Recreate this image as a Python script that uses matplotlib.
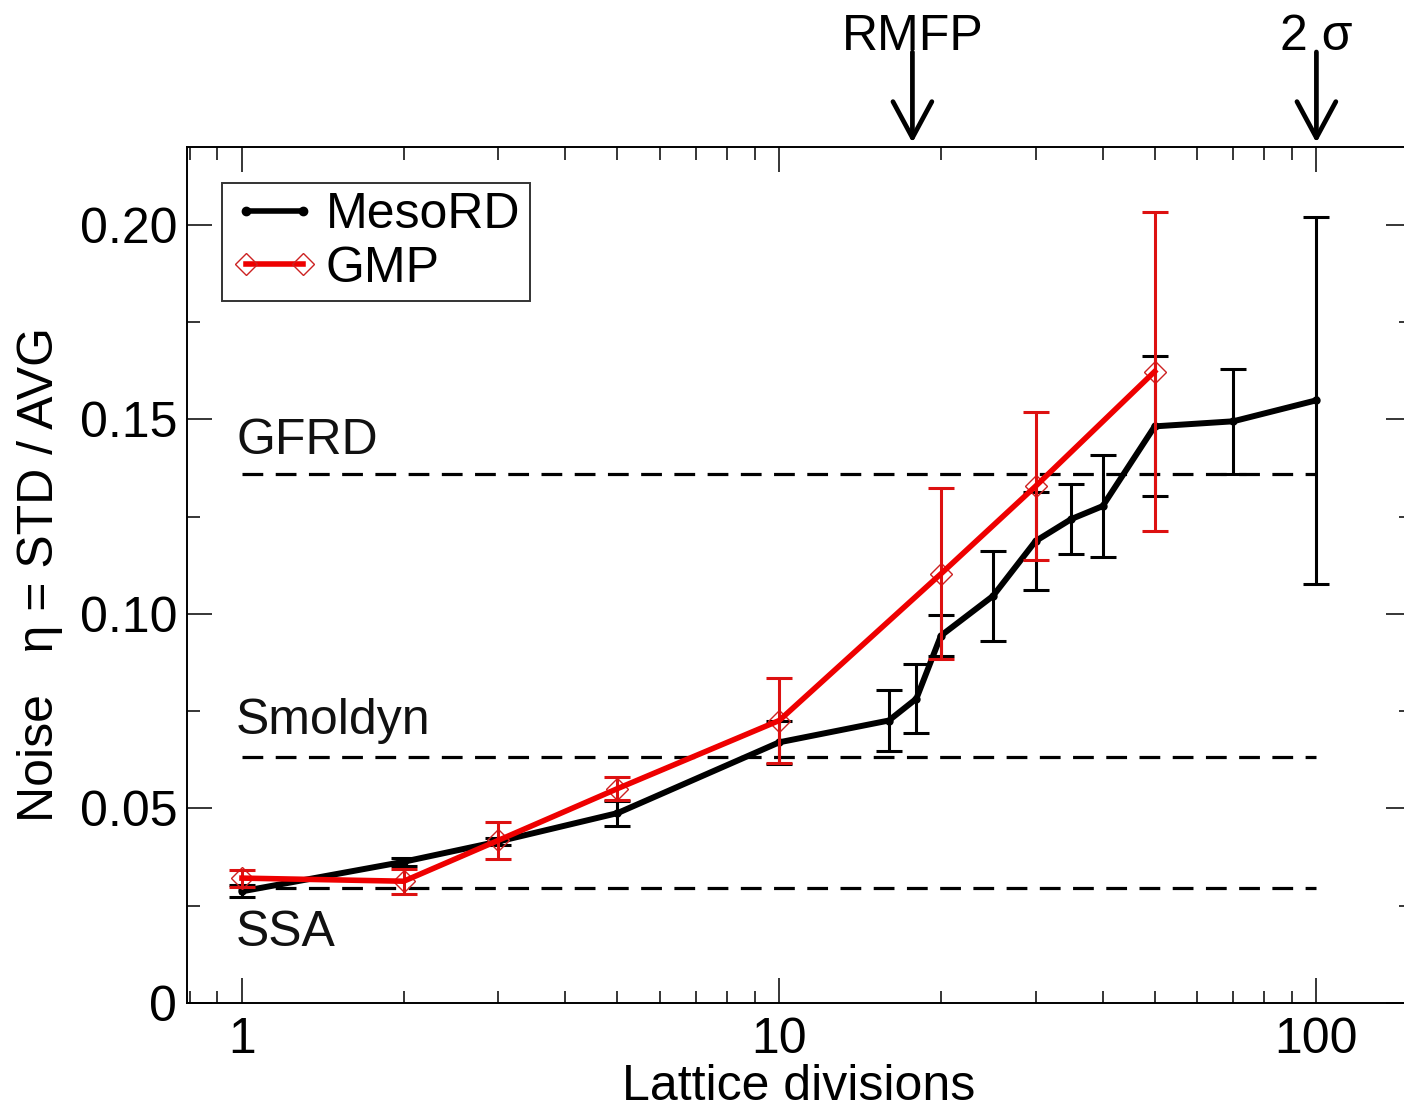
import matplotlib
matplotlib.use("Agg")
import matplotlib.pyplot as plt
from matplotlib.lines import Line2D

plt.rcParams['font.family'] = ['Liberation Sans', 'DejaVu Sans']

# ---- data ----
meso_x = [1, 2, 3, 5, 10, 16, 18, 20, 25, 30, 35, 40, 50, 70, 100]
meso_y = [0.0287, 0.0363, 0.0415, 0.0488, 0.0670, 0.0726, 0.0782, 0.0944,
          0.1046, 0.1187, 0.1244, 0.1277, 0.1482, 0.1495, 0.1549]
meso_err = [0.0015, 0.0010, 0.0010, 0.0032, 0.0055, 0.0078, 0.0088, 0.0052,
            0.0116, 0.0126, 0.0090, 0.0132, 0.0180, 0.0135, 0.0472]

gmp_x = [1, 2, 3, 5, 10, 20, 30, 50]
gmp_y = [0.0321, 0.0313, 0.0418, 0.0551, 0.0726, 0.1103, 0.1328, 0.1623]
gmp_err = [0.0022, 0.0032, 0.0048, 0.0030, 0.0108, 0.0220, 0.0190, 0.0410]

ref_names = ['GFRD', 'Smoldyn', 'SSA']
ref_values = [0.1359, 0.0631, 0.0295]
ref_label_y = [0.1410, 0.0692, 0.0146]

markers_x = [17.7, 100]
markers_text = ['RMFP', '2 σ']

xticks = [1, 10, 100]
xticklabels = ['1', '10', '100']
yticks = [0, 0.05, 0.10, 0.15, 0.20]
yticklabels = ['0', '0.05', '0.10', '0.15', '0.20']

FS = 36

fig = plt.figure(figsize=(14.04, 11.12), dpi=100)
ax = fig.add_axes([187/1404, (1112-1003)/1112, (1411-187)/1404, (1003-147)/1112])

ax.set_xscale('log')
ax.set_xlim(0.79, 150)
ax.set_ylim(0, 0.22)

# reference dashed lines
for v in ref_values:
    ax.hlines(v, 1, 100, colors='black', linewidth=2.3, linestyles=(0, (6.5, 3.9)), zorder=1)
for name, ly in zip(ref_names, ref_label_y):
    ax.text(0.975, ly, name, fontsize=FS, ha='left', va='baseline', color='#111111')

# MesoRD
ax.errorbar(meso_x, meso_y, yerr=meso_err, fmt='none', ecolor='black',
            elinewidth=2.2, capsize=9.7, capthick=2.2, zorder=2)
ax.plot(meso_x, meso_y, color='black', linewidth=4.3, marker='o', markersize=5, zorder=3)

# GMP
ax.plot(gmp_x, gmp_y, linestyle='none', marker='D', markersize=11,
        markerfacecolor='none', markeredgecolor='#cc2222', markeredgewidth=1.0, zorder=4)
ax.errorbar(gmp_x, gmp_y, yerr=gmp_err, fmt='none', ecolor='#dd1111',
            elinewidth=2.2, capsize=9.7, capthick=2.2, zorder=4)
ax.plot(gmp_x, gmp_y, color='#ee0000', linewidth=4, zorder=5)

# ticks
ax.set_xticks(xticks)
ax.set_xticklabels(xticklabels)
ax.set_yticks(yticks)
ax.set_yticklabels(yticklabels)
ax.yaxis.set_minor_locator(plt.MultipleLocator(0.025))
ax.tick_params(which='both', direction='in', top=True, right=True, width=1.1,
               labelsize=FS)
ax.tick_params(which='major', length=18, pad=7)
ax.tick_params(axis='x', which='major', pad=10)
ax.tick_params(which='minor', length=9)
for s in ax.spines.values():
    s.set_linewidth(1.4)

ax.set_xlabel('Lattice divisions', fontsize=FS, labelpad=1)
ax.set_ylabel('Noise   η = STD / AVG', fontsize=FS, labelpad=12)

# legend
h1 = Line2D([], [], color='black', linewidth=4, marker='o', markersize=6)
h2 = Line2D([], [], color='#ee0000', linewidth=4, marker='D', markersize=11,
            markerfacecolor='none', markeredgecolor='#cc2222', markeredgewidth=1.0)
leg = ax.legend([h1, h2], ['MesoRD', 'GMP'], loc='upper left',
                bbox_to_anchor=(35/1224, (1003-183)/856), borderaxespad=0,
                fontsize=FS, frameon=True, fancybox=False, numpoints=2,
                handlelength=1.74, handletextpad=0.16, borderpad=0.18,
                labelspacing=0.15)
leg.get_frame().set_edgecolor('black')
leg.get_frame().set_linewidth(1.4)

# top arrows
for mx, mt in zip(markers_x, markers_text):
    ax.annotate('', xy=(mx, 1.005), xytext=(mx, 1.111),
                xycoords=('data', 'axes fraction'), textcoords=('data', 'axes fraction'),
                arrowprops=dict(arrowstyle='->,head_length=2.6,head_width=1.4',
                                mutation_scale=10, lw=3.4, color='black',
                                shrinkA=0, shrinkB=0),
                annotation_clip=False)
    ax.text(mx, (1003-50)/856, mt, fontsize=FS, ha='center', va='baseline',
            transform=ax.get_xaxis_transform(), clip_on=False)

fig.savefig('out.png', dpi=100)
